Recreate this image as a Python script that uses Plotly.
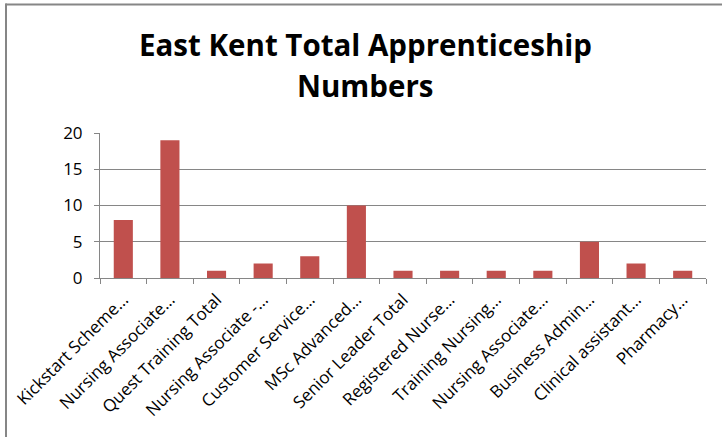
import plotly.graph_objects as go

categories = [
    "Kickstart Scheme…",
    "Nursing Associate…",
    "Quest Training Total",
    "Nursing Associate -…",
    "Customer Service…",
    "MSc Advanced…",
    "Senior Leader Total",
    "Registered Nurse…",
    "Training Nursing…",
    "Nursing Associate…\u200b",
    "Business Admin…",
    "Clinical assistant…",
    "Pharmacy…",
]
values = [8, 19, 1, 2, 3, 10, 1, 1, 1, 1, 5, 2, 1]
y_ticks = [0, 5, 10, 15, 20]
title_lines = ["East Kent Total Apprenticeship", "Numbers"]

W, H = 722, 437
L, R, T, B = 100, 16, 133, 159
pw, ph = W - L - R, H - T - B

def px_x(x):
    return (x - L) / pw

def px_y(y):
    return (H - B - y) / ph

fig = go.Figure(
    go.Bar(x=categories, y=values, marker=dict(color="#C0504D", line=dict(width=0)))
)

fig.update_layout(
    width=W,
    height=H,
    margin=dict(l=L, r=R, t=T, b=B),
    paper_bgcolor="white",
    plot_bgcolor="white",
    bargap=0.59,
    showlegend=False,
    font=dict(family="Open Sans", color="#000000"),
)

fig.update_xaxes(
    type="category",
    tickson="boundaries",
    ticks="outside",
    ticklen=5,
    tickcolor="#868686",
    showline=True,
    linecolor="#868686",
    linewidth=1,
    tickangle=-45,
    ticklabelstandoff=4,
    tickfont=dict(family="Open Sans", size=17, color="#000000"),
    showgrid=False,
)

fig.update_yaxes(
    range=[0, 20],
    tickvals=y_ticks,
    ticks="outside",
    ticklen=5,
    tickcolor="#868686",
    showline=True,
    linecolor="#868686",
    linewidth=1,
    showgrid=True,
    gridcolor="#868686",
    gridwidth=1,
    zeroline=False,
    ticklabelstandoff=8,
    tickfont=dict(family="Open Sans", size=17, color="#000000"),
)

for i, line in enumerate(title_lines):
    fig.add_annotation(
        text="<b>" + line + "</b>",
        xref="paper", yref="paper",
        x=px_x(365), y=px_y(44 + i * 41),
        xanchor="center", yanchor="middle",
        showarrow=False,
        font=dict(family="Open Sans", size=29.5, color="#000000"),
    )

# outer chart frame (top and left edges visible)
fig.add_shape(
    type="line", xref="paper", yref="paper",
    x0=px_x(5.5), x1=px_x(722), y0=px_y(4.5), y1=px_y(4.5),
    line=dict(color="#868686", width=2), layer="above",
)
fig.add_shape(
    type="line", xref="paper", yref="paper",
    x0=px_x(6), x1=px_x(6), y0=px_y(3.5), y1=px_y(437),
    line=dict(color="#868686", width=2), layer="above",
)

fig.write_html("out.html")
